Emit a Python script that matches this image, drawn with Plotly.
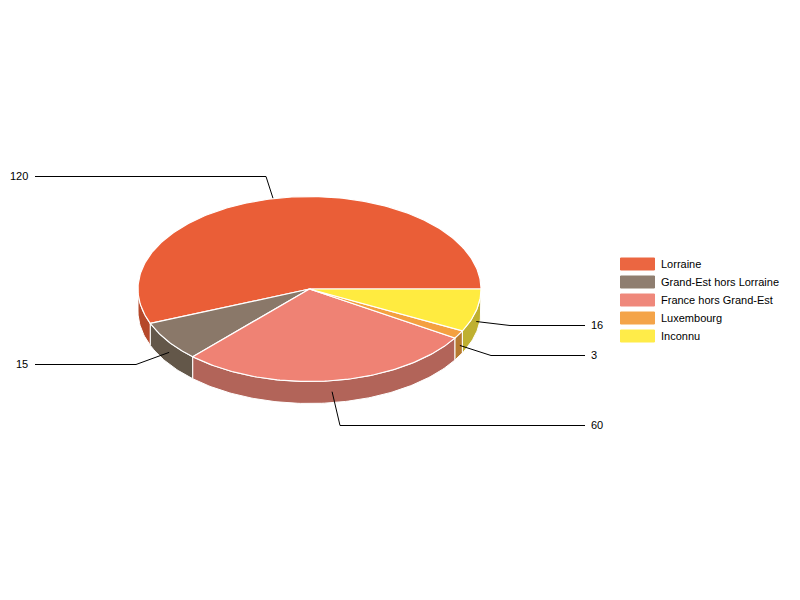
import numpy as np
import plotly.graph_objects as go

# Data
categories = ["Lorraine", "Grand-Est hors Lorraine", "France hors Grand-Est", "Luxembourg", "Inconnu"]
values = [120, 15, 60, 3, 16]

# Styles
top_colors = ["#EA5E37", "#8A7869", "#EF8274", "#F4A040", "#FFEB40"]
side_colors = ["#B5482A", "#635749", "#B26459", "#B67A30", "#BFB030"]

# Pie geometry, in page pixels
CX, CY = 309.5, 289
RX, RY = 171.5, 92.5
DEPTH = 22

# Callout elbows and label ends
elbow_x = [266, 136, 340, 491, 510]
elbow_y = [176.5, 364.5, 425.5, 355.5, 325.5]
end_x = [35, 35, 585, 585, 585]
anchor_shift = [-4, 1, 0, 1, 0]

LEGEND_ROWS = [264, 282, 300, 318, 336]


def arc(a0, a1, dy=0.0):
    """Points of the ellipse between two angles (degrees, counter-clockwise on screen)."""
    n = max(2, int(abs(a1 - a0)) + 2)
    t = np.radians(np.linspace(a0, a1, n))
    return CX + RX * np.cos(t), CY - RY * np.sin(t) + dy


fractions = np.array(values) / sum(values)
ends = np.cumsum(fractions) * 360
starts = ends - fractions * 360

fig = go.Figure()

# Outer walls: only the front half of the pie can be seen
for start, end, color in zip(starts, ends, side_colors):
    a0, a1 = max(start, 180), min(end, 360)
    if a1 <= a0:
        continue
    x0, y0 = arc(a0, a1)
    x1, y1 = arc(a1, a0, DEPTH)
    fig.add_trace(go.Scatter(
        x=np.concatenate([x0, x1, x0[:1]]),
        y=np.concatenate([y0, y1, y0[:1]]),
        mode="lines", fill="toself", fillcolor=color,
        line=dict(color="white", width=1),
        hoverinfo="skip", showlegend=False,
    ))

# Top faces
for name, value, start, end, color in zip(categories, values, starts, ends, top_colors):
    xa, ya = arc(start, end)
    fig.add_trace(go.Scatter(
        x=np.concatenate([[CX], xa, [CX]]),
        y=np.concatenate([[CY], ya, [CY]]),
        mode="lines", fill="toself", fillcolor=color,
        line=dict(color="white", width=1.2),
        name=name, text=f"{name}: {value}", hoverinfo="text", showlegend=False,
    ))

# Callouts
for i, value in enumerate(values):
    mid = (starts[i] + ends[i]) / 2
    ax, ay = arc(mid, mid)
    ax, ay = ax[0] + anchor_shift[i], ay[0]
    if 180 < mid < 360:
        ay += DEPTH / 2
    fig.add_trace(go.Scatter(
        x=[ax, elbow_x[i], end_x[i]],
        y=[ay, elbow_y[i], elbow_y[i]],
        mode="lines", line=dict(color="black", width=1),
        hoverinfo="skip", showlegend=False,
    ))
    left = end_x[i] < CX
    fig.add_annotation(
        x=end_x[i] + (-5 if left else 4), y=elbow_y[i] - 0.5,
        text=str(value), showarrow=False,
        xanchor="right" if left else "left", yanchor="middle",
        font=dict(family="Liberation Sans, Arial", size=11, color="black"),
    )

# Legend drawn by hand to get the wide swatches
for name, color, row in zip(categories, top_colors, LEGEND_ROWS):
    fig.add_shape(
        type="rect", x0=620.5, x1=654.5, y0=row - 6, y1=row + 6,
        fillcolor=color, line=dict(color=color, width=1), opacity=0.95,
    )
    fig.add_annotation(
        x=659, y=row, text=name, showarrow=False,
        xanchor="left", yanchor="middle",
        font=dict(family="Liberation Sans, Arial", size=11, color="black"),
    )

fig.update_layout(
    width=800, height=600,
    margin=dict(l=0, r=0, t=0, b=0),
    paper_bgcolor="white", plot_bgcolor="white",
    showlegend=False,
    xaxis=dict(range=[0, 800], visible=False, fixedrange=True),
    yaxis=dict(range=[600, 0], visible=False, fixedrange=True),
)

# The default page keeps an 8px body margin
fig.write_html(
    "out.html",
    config={"displayModeBar": False},
    post_script="document.body.style.margin = '0';",
)
